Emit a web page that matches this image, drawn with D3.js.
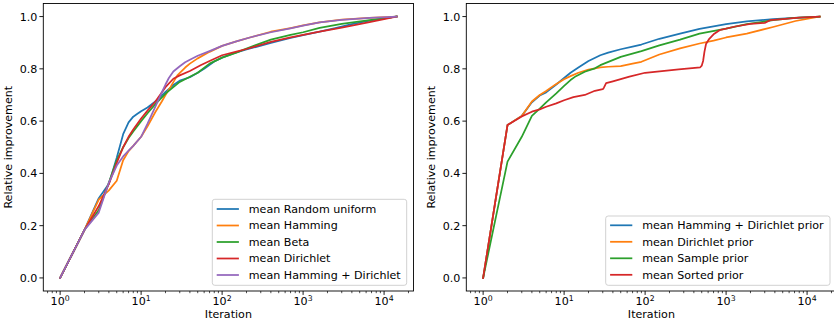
<!DOCTYPE html>
<html>
<head>
<meta charset="utf-8">
<script src="https://cdn.jsdelivr.net/npm/d3@7"></script>
<style>
html,body{margin:0;padding:0;background:#fff;}
svg{display:block;font-family:"DejaVu Sans",sans-serif;}
</style>
</head>
<body>
<svg id="chart" width="834" height="322"></svg>
<script>
// ---------- DATA ----------
const maxIteration = 14300;
const yTicks = [0.0, 0.2, 0.4, 0.6, 0.8, 1.0];
const xTickExponents = [0, 1, 2, 3, 4];
const xLabel = "Iteration";
const yLabel = "Relative improvement";
const colors = ["#1f77b4", "#ff7f0e", "#2ca02c", "#d62728", "#9467bd"];

// Left panel
const leftNames = ["mean Random uniform", "mean Hamming", "mean Beta", "mean Dirichlet", "mean Hamming + Dirichlet"];
const randomUniform = [[1,0],[2,0.184],[3,0.305],[4,0.36],[5,0.46],[6,0.55],[7,0.595],[8,0.617],[9,0.628],[10,0.638],[12,0.652],[15,0.675],[20,0.712],[25,0.738],[30,0.755],[40,0.768],[50,0.785],[60,0.80],[80,0.828],[100,0.843],[140,0.86],[200,0.874],[400,0.899],[700,0.918],[1000,0.929],[1600,0.942],[2500,0.956],[4000,0.971],[6600,0.984],[10000,0.993],[14300,1]];
const hamming = [[1,0],[2,0.184],[3,0.30],[4,0.335],[5,0.372],[6,0.45],[7,0.485],[8,0.505],[10,0.54],[12,0.58],[15,0.635],[18,0.675],[20,0.70],[23,0.73],[28,0.775],[35,0.805],[40,0.82],[50,0.84],[70,0.865],[100,0.888],[150,0.905],[220,0.92],[400,0.942],[700,0.956],[1000,0.966],[1600,0.978],[3000,0.988],[6600,0.995],[14300,1]];
const beta = [[1,0],[2,0.184],[3,0.26],[4,0.365],[5,0.45],[6,0.50],[7,0.535],[8,0.56],[10,0.60],[12,0.63],[15,0.665],[20,0.705],[25,0.73],[30,0.75],[40,0.77],[50,0.785],[70,0.82],[100,0.843],[150,0.862],[200,0.878],[400,0.912],[700,0.93],[1000,0.94],[1600,0.957],[3000,0.972],[6600,0.986],[10000,0.993],[14300,1]];
const dirichlet = [[1,0],[2,0.184],[3,0.275],[4,0.36],[5,0.44],[6,0.50],[7,0.54],[8,0.568],[10,0.61],[12,0.64],[15,0.675],[20,0.73],[25,0.762],[30,0.775],[40,0.792],[55,0.815],[70,0.83],[100,0.852],[150,0.866],[200,0.876],[400,0.903],[700,0.92],[1000,0.93],[1600,0.942],[3000,0.958],[6600,0.979],[10000,0.99],[14300,1]];
const hammingDirichlet = [[1,0],[2,0.184],[3,0.25],[4,0.365],[5,0.43],[6,0.465],[7,0.487],[8,0.505],[10,0.54],[12,0.59],[15,0.655],[18,0.71],[20,0.74],[22,0.765],[25,0.79],[30,0.81],[35,0.825],[40,0.835],[50,0.85],[70,0.868],[100,0.888],[150,0.905],[220,0.92],[400,0.94],[700,0.955],[1000,0.965],[1600,0.978],[3000,0.987],[6600,0.995],[14300,1]];

// Right panel
const rightNames = ["mean Hamming + Dirichlet prior", "mean Dirichlet prior", "mean Sample prior", "mean Sorted prior"];
const hammingDirichletPrior = [[1,0],[2,0.585],[3,0.62],[4,0.672],[5,0.698],[6,0.71],[8,0.74],[10,0.765],[12,0.785],[15,0.805],[20,0.83],[28,0.852],[35,0.862],[50,0.875],[70,0.885],[90,0.893],[150,0.915],[270,0.935],[470,0.953],[1000,0.971],[1800,0.982],[3800,0.99],[7000,0.995],[14300,1]];
const dirichletPrior = [[1,0],[2,0.585],[3,0.62],[4,0.675],[5,0.70],[6,0.715],[7,0.73],[8,0.742],[10,0.76],[12,0.772],[15,0.785],[20,0.797],[28,0.806],[35,0.808],[50,0.81],[70,0.82],[90,0.827],[150,0.855],[270,0.878],[470,0.897],[700,0.908],[1000,0.92],[1800,0.935],[3800,0.96],[7200,0.983],[14300,1]];
const samplePrior = [[1,0],[2,0.445],[3,0.54],[4,0.62],[5,0.648],[6,0.672],[8,0.706],[10,0.735],[12,0.757],[14,0.772],[18,0.789],[24,0.802],[28,0.814],[50,0.846],[90,0.868],[150,0.89],[270,0.912],[470,0.935],[1000,0.954],[1800,0.971],[3800,0.986],[7000,0.995],[14300,1]];
const sortedPrior = [[1,0],[2,0.585],[3,0.618],[4,0.636],[5,0.645],[6,0.655],[8,0.668],[10,0.68],[13,0.692],[18,0.70],[24,0.716],[30,0.722],[31,0.728],[33,0.745],[40,0.752],[64,0.77],[100,0.785],[260,0.798],[480,0.806],[500,0.812],[520,0.83],[540,0.865],[565,0.895],[620,0.915],[700,0.932],[830,0.948],[1300,0.962],[2000,0.972],[3000,0.976],[3500,0.986],[5000,0.99],[8000,0.996],[14300,1]];

const leftSeries = [randomUniform, hamming, beta, dirichlet, hammingDirichlet];
const rightSeries = [hammingDirichletPrior, dirichletPrior, samplePrior, sortedPrior];

// ---------- DRAW ----------
const svg = d3.select("#chart");
const FS = 11.1;

function panel(left, width, top, bottom, series, names, legendBox) {
  const g = svg.append("g");
  const lmin = 0, lmax = Math.log10(maxIteration);
  const m = (lmax - lmin) * 0.05;
  const x = d3.scaleLog().domain([Math.pow(10, lmin - m), Math.pow(10, lmax + m)]).range([left, left + width]);
  const y = d3.scaleLinear().domain([-0.05, 1.05]).range([bottom, top]);

  const clipId = "clip" + Math.round(left);
  svg.append("defs").append("clipPath").attr("id", clipId)
    .append("rect").attr("x", left).attr("y", top).attr("width", width).attr("height", bottom - top);

  const line = d3.line().x(d => x(d[0])).y(d => y(d[1]));
  const lg = g.append("g").attr("clip-path", `url(#${clipId})`);
  series.forEach((s, i) => {
    lg.append("path").datum(s).attr("d", line)
      .attr("fill", "none").attr("stroke", colors[i]).attr("stroke-width", 1.75)
      .attr("stroke-linejoin", "round").attr("stroke-linecap", "square");
  });

  // spines
  g.append("rect").attr("x", left).attr("y", top).attr("width", width).attr("height", bottom - top)
    .attr("fill", "none").attr("stroke", "#000").attr("stroke-width", 0.9);

  // y ticks
  yTicks.forEach(t => {
    const yy = y(t);
    g.append("line").attr("x1", left).attr("x2", left - 3.9).attr("y1", yy).attr("y2", yy).attr("stroke", "#000").attr("stroke-width", 0.9);
    g.append("text").attr("x", left - 6).attr("y", yy).attr("dy", "0.36em")
      .attr("text-anchor", "end").attr("font-size", FS).attr("fill", "#000").text(t.toFixed(1));
  });

  // x major ticks
  xTickExponents.forEach(e => {
    const xx = x(Math.pow(10, e));
    g.append("line").attr("x1", xx).attr("x2", xx).attr("y1", bottom).attr("y2", bottom + 3.9).attr("stroke", "#000").attr("stroke-width", 0.9);
    const t = g.append("text").attr("x", xx).attr("y", bottom + 14.2)
      .attr("text-anchor", "middle").attr("font-size", FS).attr("fill", "#000");
    t.append("tspan").text("10");
    t.append("tspan").attr("dy", -4.6).attr("font-size", FS * 0.7).text(String(e));
  });
  // x minor ticks
  const [d0, d1] = x.domain();
  for (let e = -1; e <= 5; e++) {
    for (let k = 2; k <= 9; k++) {
      const v = k * Math.pow(10, e);
      if (v < d0 || v > d1) continue;
      const xx = x(v);
      if (xx > 834) continue;
      g.append("line").attr("x1", xx).attr("x2", xx).attr("y1", bottom).attr("y2", bottom + 2.2).attr("stroke", "#000").attr("stroke-width", 0.7);
    }
  }

  // axis labels
  g.append("text").attr("x", left + width / 2).attr("y", bottom + 27).attr("text-anchor", "middle")
    .attr("font-size", FS).attr("fill", "#000").text(xLabel);
  g.append("text").attr("transform", `translate(${left - 31.5},${(top + bottom) / 2}) rotate(-90)`)
    .attr("text-anchor", "middle").attr("font-size", FS).attr("fill", "#000").text(yLabel);

  // legend
  const L = legendBox;
  g.append("rect").attr("x", L.x).attr("y", L.y).attr("width", L.w).attr("height", L.h)
    .attr("rx", 2.5).attr("fill", "#fff").attr("fill-opacity", 0.8).attr("stroke", "#cccccc").attr("stroke-width", 0.9);
  names.forEach((n, i) => {
    const yy = L.y + L.first + i * 16.5;
    g.append("line").attr("x1", L.x + 4.4).attr("x2", L.x + 26.6).attr("y1", yy).attr("y2", yy)
      .attr("stroke", colors[i]).attr("stroke-width", 1.75);
    g.append("text").attr("x", L.x + 36.5).attr("y", yy).attr("dy", "0.36em").attr("font-size", FS)
      .attr("fill", "#000").text(n);
  });
}

panel(43.3, 370.2, 3.5, 291, leftSeries, leftNames, {x: 212.3, y: 199.3, w: 194.4, h: 86, first: 9.7});
panel(466.3, 370.2, 3.5, 291, rightSeries, rightNames, {x: 605.7, y: 216, w: 224.3, h: 69.3, first: 9.3});
</script>
</body>
</html>
